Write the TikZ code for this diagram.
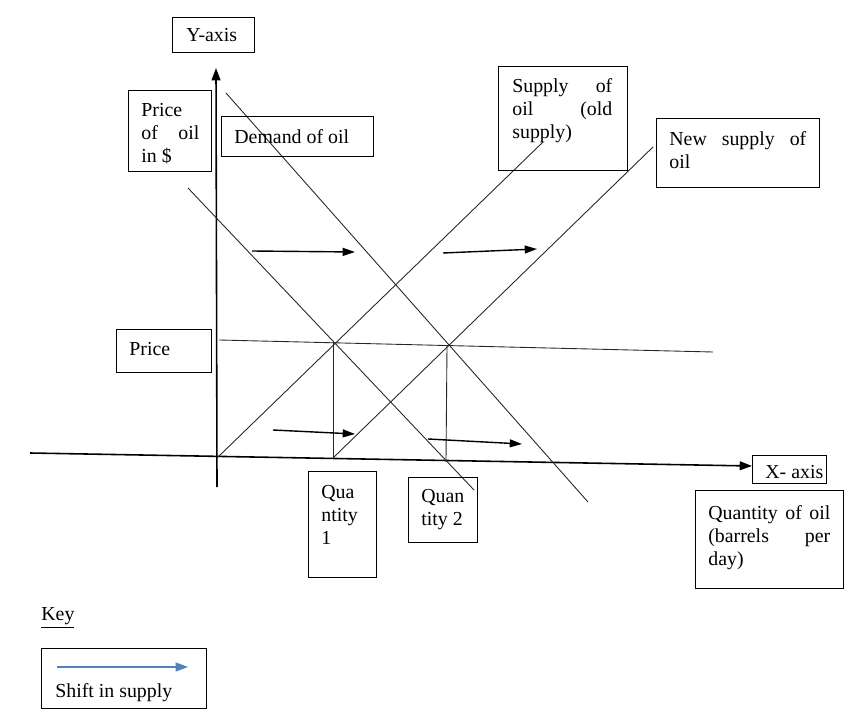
\documentclass[tikz,border=0pt]{standalone}
\usepackage{fontspec}
\setmainfont{Liberation Serif}
\usetikzlibrary{positioning, arrows.meta}

\definecolor{keyblue}{HTML}{4F81BD}

\begin{document}
\begin{tikzpicture}[x=0.02cm, y=-0.02cm,
    every node/.style={font=\fontsize{11.3}{13}\selectfont},
    box/.style 2 args={draw, line width=0.6pt, anchor=north west, inner sep=0pt,
        minimum width=#1*0.02cm, minimum height=#2*0.02cm},
    boxtext/.style={anchor=north west, inner sep=0pt, align=justify},
    curve/.style={line width=0.5pt, black!85},
    axis/.style={line width=0.9pt, -{Triangle[length=7pt, width=5pt]}},
    shiftarrow/.style={line width=0.8pt, -{Triangle[length=7pt, width=4.5pt]}}]

    \useasboundingbox (0,0) rectangle (856,716);

    \coordinate (origin) at (217,458);
    \coordinate (ytop) at (216,68);
    \coordinate (ybot) at (217,487);
    \coordinate (xleft) at (30,453);
    \coordinate (xright) at (752,466);
    \coordinate (dold1) at (188,188);
    \coordinate (dold2) at (474,490);
    \coordinate (dnew1) at (226,93);
    \coordinate (dnew2) at (588,502);
    \coordinate (sold) at (543,142);
    \coordinate (snew1) at (333,458);
    \coordinate (snew2) at (653,147);
    \coordinate (pleft) at (219,340);
    \coordinate (pright) at (713,352);
    \coordinate (eq1) at (333,342);
    \coordinate (eq2) at (447,346);
    \coordinate (q1) at (333,458);
    \coordinate (q2) at (446,462);

    \draw[axis] (ybot) -- (ytop);
    \draw[axis] (xleft) -- (xright);
    \draw[curve] (dold1) -- (dold2);
    \draw[curve] (dnew1) -- (dnew2);
    \draw[curve] (origin) -- (sold);
    \draw[curve] (snew1) -- (snew2);
    \draw[curve] (pleft) -- (pright);
    \draw[curve] (eq1) -- (q1);
    \draw[curve] (eq2) -- (q2);

    \coordinate (sa1) at (252,251);
    \coordinate (sb1) at (355,252);
    \coordinate (sa2) at (443,253);
    \coordinate (sb2) at (537,249);
    \coordinate (sa3) at (273,430);
    \coordinate (sb3) at (355,434);
    \coordinate (sa4) at (428,439);
    \coordinate (sb4) at (522,444);
    \draw[shiftarrow] (sa1) -- (sb1);
    \draw[shiftarrow] (sa2) -- (sb2);
    \draw[shiftarrow] (sa3) -- (sb3);
    \draw[shiftarrow] (sa4) -- (sb4);

    \node[box={82}{35}] (yaxisbox) at (172,17) {};
    \node[boxtext] (yaxistext) at ([shift={(14,11)}]yaxisbox.north west) {Y-axis};

    \node[box={83}{81}] (pricebox) at (128,90) {};
    \node[boxtext, text width=1.16cm] (pricetext) at ([shift={(13,13)}]pricebox.north west) {Price of oil in \$};

    \node[box={152}{40}] (demandbox) at (221,116) {};
    \node[boxtext] (demandtext) at ([shift={(13,13)}]demandbox.north west) {Demand of oil};

    \node[box={129}{104}] (oldbox) at (498,66) {};
    \node[boxtext, text width=2.0cm] (oldtext) at ([shift={(14,12)}]oldbox.north west) {Supply of oil (old supply)};

    \node[box={163}{69}] (newbox) at (656,118) {};
    \node[boxtext, text width=2.74cm] (newtext) at ([shift={(13,13)}]newbox.north west) {New supply of oil};

    \node[box={95}{43}] (pbox) at (116,329) {};
    \node[boxtext] (ptext) at ([shift={(13,13)}]pbox.north west) {Price};

    \node[box={68}{106}] (q1box) at (308,471) {};
    \node[boxtext, align=left] (q1text) at ([shift={(13,14)}]q1box.north west) {Qua\\ntity\\1};

    \node[box={69}{65}] (q2box) at (408,477) {};
    \node[boxtext, align=left] (q2text) at ([shift={(13,12)}]q2box.north west) {Quan\\tity 2};

    \node[box={74}{28}] (xaxisbox) at (752,455) {};
    \node[boxtext] (xaxistext) at ([shift={(13,10)}]xaxisbox.north west) {X- axis};

    \node[box={148}{98}] (qtybox) at (695,490) {};
    \node[boxtext, align=left, text width=2.44cm] (qtytext) at ([shift={(13,15)}]qtybox.north west) {Quantity\hfill of\hfill oil\\(barrels\hfill per\\day)};

    \node[boxtext] (keytitle) at (41,607) {\underline{Key}};
    \node[box={165}{60}] (keybox) at (41,648) {};
    \coordinate (k1) at (57,667);
    \coordinate (k2) at (188,667);
    \draw[keyblue, line width=0.8pt, -{Triangle[length=7pt, width=5pt]}] (k1) -- (k2);
    \node[boxtext] (keytext) at ([shift={(14,35)}]keybox.north west) {Shift in supply};
\end{tikzpicture}
\end{document}
